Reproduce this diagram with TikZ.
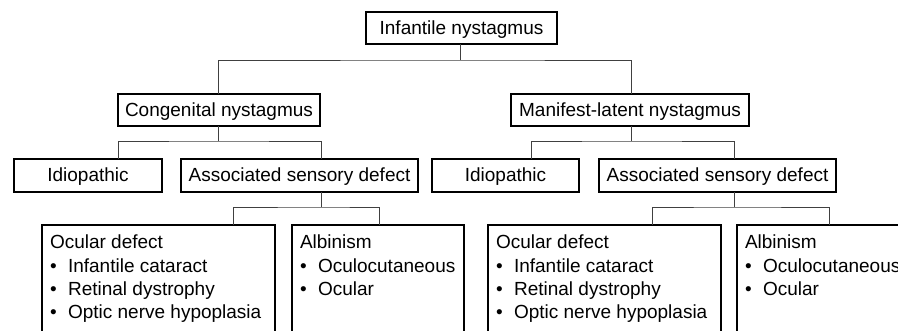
\documentclass[tikz,border=0pt]{standalone}
\usepackage{fontspec}
\setmainfont{Liberation Sans}
\begin{document}
\begin{tikzpicture}[x=1pt,y=-1pt,
  box/.style={draw=black,line width=1.2pt,outer sep=0pt,inner sep=0pt,
    font=\fontsize{19}{23.3}\selectfont,text height=14pt,text depth=2pt},
  lst/.style={draw=black,line width=1.2pt,outer sep=0pt,inner sep=0pt,
    anchor=north west,font=\fontsize{19}{23.3}\selectfont},
  conn/.style={draw=black!75,line width=1pt}]
\useasboundingbox (0,0) rectangle (898,330);
\fill[white] (0,0) rectangle (898,330);
\clip (0,0) rectangle (898,330);
\newcommand{\blist}[2]{\parbox[t][130pt][t]{#1}{\raggedright\leftskip=8pt\hyphenpenalty=10000 #2}}
\newcommand{\bul}{\textbullet\hspace{0.6em}}
% level 0
\node[box,minimum width=191pt,minimum height=32pt] (top) at (461.5,28) {Infantile nystagmus};
% level 1
\node[box,minimum width=202pt,minimum height=32pt] (cong) at (219,110) {Congenital nystagmus};
\node[box,minimum width=238pt,minimum height=32pt] (man) at (630,110) {Manifest-latent nystagmus};
% level 2
\node[box,minimum width=148pt,minimum height=33pt] (idL) at (88,175.5) {Idiopathic};
\node[box,minimum width=237pt,minimum height=33pt] (asL) at (299.5,175.5) {Associated sensory defect};
\node[box,minimum width=147pt,minimum height=33pt] (idR) at (505.5,175.5) {Idiopathic};
\node[box,minimum width=237pt,minimum height=33pt] (asR) at (717.5,175.5) {Associated sensory defect};
% level 3
\node[lst] (ocL) at (42,225) {\blist{233pt}{\rule{0pt}{23.7pt}Ocular defect\\
  \bul Infantile cataract\\
  \bul Retinal dystrophy\\
  \bul Optic nerve hypoplasia}};
\node[lst] (alL) at (292,225) {\blist{172pt}{\rule{0pt}{23.7pt}Albinism\\
  \bul Oculocutaneous\\
  \bul Ocular}};
\node[lst] (ocR) at (488,225) {\blist{233pt}{\rule{0pt}{23.7pt}Ocular defect\\
  \bul Infantile cataract\\
  \bul Retinal dystrophy\\
  \bul Optic nerve hypoplasia}};
\node[lst] (alR) at (737,225) {\blist{172pt}{\rule{0pt}{23.7pt}Albinism\\
  \bul Oculocutaneous\\
  \bul Ocular}};
% connectors
\draw[conn] ([xshift=-1.5pt]top.south) -- ++(0,16) coordinate (tj);
\draw[conn] ([xshift=-1pt]cong.north) |- (tj) -| ([xshift=1pt]man.north);
\draw[conn] ([xshift=-1pt]cong.south) -- ++(0,15) coordinate (cj);
\draw[conn] ([xshift=30pt]idL.north) |- (cj) -| ([xshift=21.5pt]asL.north);
\draw[conn] ([xshift=1pt]man.south) -- ++(0,15) coordinate (mj);
\draw[conn] ([xshift=25.5pt]idR.north) |- (mj) -| ([xshift=16.5pt]asR.north);
\draw[conn] ([xshift=21.5pt]asL.south) -- ++(0,15) coordinate (aj);
\draw[conn] ([xshift=-41.5pt]ocL.north east) |- (aj) -| ([xshift=87pt]alL.north west);
\draw[conn] ([xshift=16.5pt]asR.south) -- ++(0,15) coordinate (bj);
\draw[conn] ([xshift=-69pt]ocR.north east) |- (bj) -| ([xshift=92pt]alR.north west);
\end{tikzpicture}
\end{document}
